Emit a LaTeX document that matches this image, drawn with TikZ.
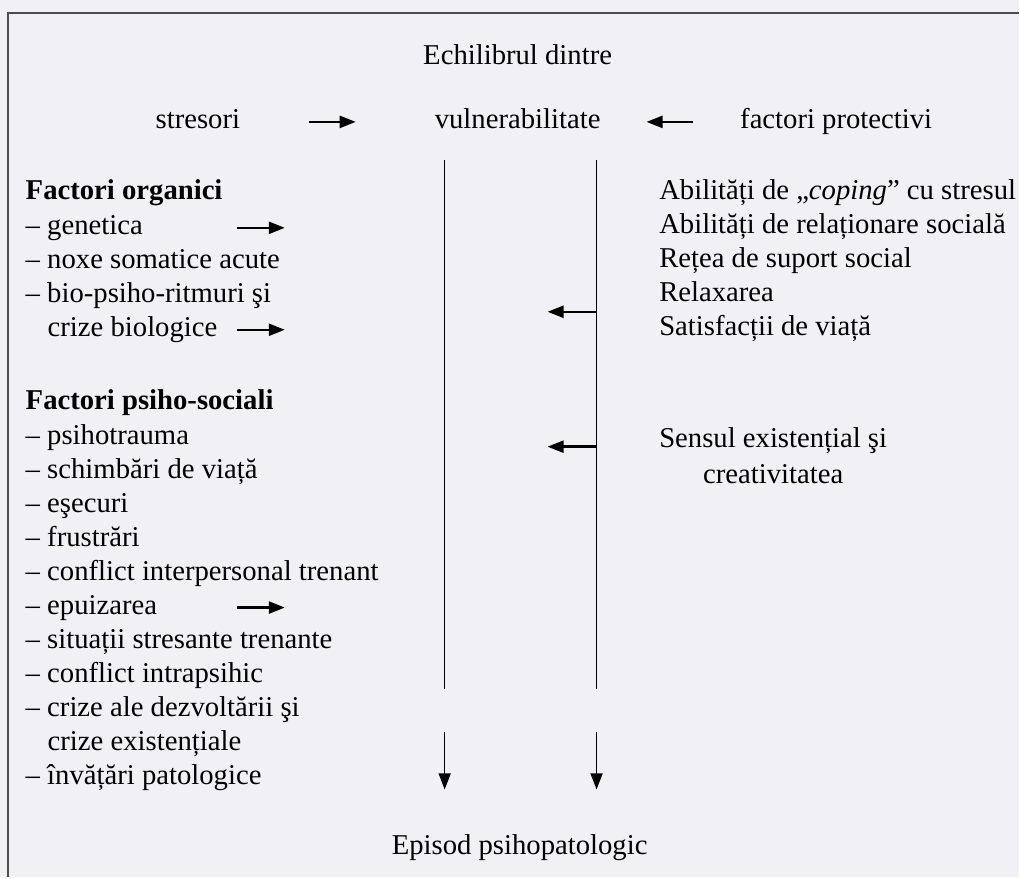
\documentclass[tikz,border=0pt]{standalone}
\usepackage{fontspec}
\setmainfont{Liberation Serif}
\usetikzlibrary{arrows.meta,positioning}

\tikzset{
  txt/.style={anchor=west, inner sep=0pt, text height=10pt, text depth=3pt,
    font=\fontsize{14.35}{17}\selectfont},
  arr/.style={-{Triangle[length=8pt,width=6pt]}, line width=1.2pt},
}

\begin{document}
\begin{tikzpicture}[x=0.5pt, y=-0.5pt, line width=0.75pt]
\path[fill={rgb,255:red,241;green,241;blue,245}] (0,0) rectangle (1020,878);
\draw[black!70] (1020,13) -- (8,13) -- (8,878);

\node[txt, anchor=center] (echilibru) at (518,58) {Echilibrul dintre};
\node[txt, anchor=center] (stresori) at (198,122) {stresori};
\node[txt, anchor=center] (vuln) at (518,122) {vulnerabilitate};
\node[txt] (protect) at (740,122) {factori protectivi};
\draw[arr] (stresori.east) ++(68,0) -- ++(47,0);
\draw[arr] (protect.west) ++(-46,0) -- ++(-47,0);

%%%%%%%%%%%%%%%%%%%%%%%%%%%%%%%%%%%%%%%%

\node[txt] (organic) at (25,193) {\bfseries Factori organici};
\node[txt] (genetica) at (25,228) {– genetica};
\node[txt] (noxe) at (25,262) {– noxe somatice acute};
\node[txt] (ritmuri) at (25,296) {– bio-psiho-ritmuri şi};
\node[txt] (biologice) at (47,330) {crize biologice};
\node[txt] (psihosocial) at (25,403) {\bfseries Factori psiho-sociali};
\node[txt] (psihotrauma) at (25,438) {– psihotrauma};
\node[txt] (schimbari) at (25,472) {– schimbări de viață};
\node[txt] (esecuri) at (25,506) {– eşecuri};
\node[txt] (frustrari) at (25,540) {– frustrări};
\node[txt] (interpers) at (25,574) {– conflict interpersonal trenant};
\node[txt] (epuizarea) at (25,608) {– epuizarea};
\node[txt] (situatii) at (25,642) {– situații stresante trenante};
\node[txt] (intrapsihic) at (25,676) {– conflict intrapsihic};
\node[txt] (dezvoltare) at (25,710) {– crize ale dezvoltării şi};
\node[txt] (existentiale) at (47,744) {crize existențiale};
\node[txt] (invatari) at (25,778) {– învățări patologice};

\coordinate (arrx) at (237,0);
\draw[arr] (genetica -| arrx) -- ++(48,0);
\draw[arr] (biologice -| arrx) -- ++(48,0);
\draw[arr] (epuizarea -| arrx) -- ++(48,0);

%%%%%%%%%%%%%%%%%%%%%%%%%%%%%%%%%%%%%%%%

\node[txt] (coping) at (659,193) {Abilități de „\textit{coping}” cu stresul};
\node[txt] (relationare) at (659,227) {Abilități de relaționare socială};
\node[txt] (retea) at (659,261) {Rețea de suport social};
\node[txt] (relaxarea) at (659,295) {Relaxarea};
\node[txt] (satisfactii) at (659,329) {Satisfacții de viață};
\node[txt] (sensul) at (659,441) {Sensul existențial şi};
\node[txt, below=4pt of sensul] (creativ) {creativitatea};

%%%%%%%%%%%%%%%%%%%%%%%%%%%%%%%%%%%%%%%%

\node[txt, anchor=center] (episod) at (520,848) {Episod psihopatologic};

\coordinate (lefttop) at (445,160);
\coordinate (righttop) at (597,160);
\draw (lefttop) -- ++(0,530) coordinate (leftgap);
\draw[arr, line width=0.75pt] (leftgap) ++(0,43) -- ++(0,57);
\draw (righttop) -- ++(0,530) coordinate (rightgap);
\draw[arr, line width=0.75pt] (rightgap) ++(0,43) -- ++(0,57);
\draw[arr] (righttop) ++(0,152) -- ++(-49,0);
\draw[arr] (righttop) ++(0,287) -- ++(-49,0);

\end{tikzpicture}
\end{document}
